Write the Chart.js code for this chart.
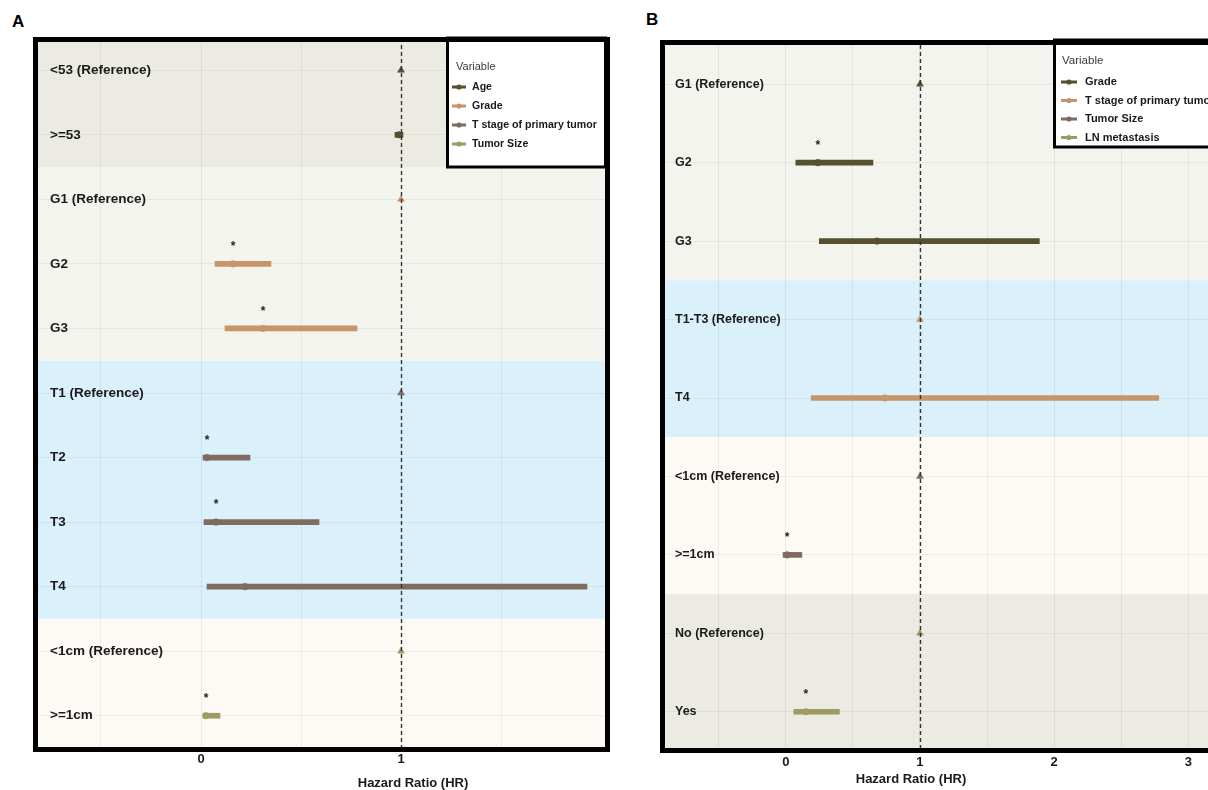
<!DOCTYPE html>
<html>
<head>
<meta charset="utf-8">
<script src="https://cdn.jsdelivr.net/npm/chart.js@4"></script>
<style>
html,body{margin:0;padding:0;background:#fff;overflow:hidden;width:1208px;height:790px;}
.panel{position:absolute;font:bold 17px 'Liberation Sans',Arial,sans-serif;color:#000;}
#cA{position:absolute;left:0;top:0;}
#cB{position:absolute;left:640px;top:0;}
</style>
</head>
<body>
<div class="panel" style="left:12px;top:12px">A</div>
<div class="panel" style="left:646px;top:10px">B</div>
<canvas id="cA" width="620" height="790"></canvas>
<canvas id="cB" width="620" height="790"></canvas>
<script>
// ---------- Panel A data ----------
const labelsA = ['<53 (Reference)', '>=53', 'G1 (Reference)', 'G2', 'G3', 'T1 (Reference)', 'T2', 'T3', 'T4', '<1cm (Reference)', '>=1cm'];
const variablesA = ['Age', 'Grade', 'T stage of primary tumor', 'Tumor Size'];
const groupA = [0, 0, 1, 1, 1, 2, 2, 2, 2, 3, 3];
const hrA   = [1, 0.99, 1, 0.16, 0.31, 1, 0.03, 0.075, 0.22, 1, 0.025];
const lowA  = [null, 0.97, null, 0.07, 0.12, null, 0.01, 0.015, 0.03, null, 0.01];
const highA = [null, 1.01, null, 0.35, 0.78, null, 0.245, 0.59, 1.93, null, 0.095];
const sigA  = [0, 0, 0, 1, 1, 0, 1, 1, 0, 0, 1];
const gridTicksA = [-0.5, 0, 0.5, 1, 1.5];
const tickLabelsA = [0, 1];

// ---------- Panel B data ----------
const labelsB = ['G1 (Reference)', 'G2', 'G3', 'T1-T3 (Reference)', 'T4', '<1cm (Reference)', '>=1cm', 'No (Reference)', 'Yes'];
const variablesB = ['Grade', 'T stage of primary tumor', 'Tumor Size', 'LN metastasis'];
const groupB = [0, 0, 0, 1, 1, 2, 2, 3, 3];
const hrB   = [1, 0.24, 0.68, 1, 0.74, 1, 0.01, 1, 0.15];
const lowB  = [null, 0.075, 0.25, null, 0.19, null, -0.02, null, 0.06];
const highB = [null, 0.65, 1.89, null, 2.78, null, 0.12, null, 0.40];
const sigB  = [0, 1, 0, 0, 0, 0, 1, 0, 1];
const gridTicksB = [-0.5, 0, 0.5, 1, 1.5, 2, 2.5, 3];
const tickLabelsB = [0, 1, 2, 3];

// ---------- styles ----------
const palette = ['#57502F', '#C8946A', '#7F6B60', '#9D9B62'];
const FONT = "'Liberation Sans', Arial, sans-serif";

function buildDatasets(labels, groups, hr, low, high, variables) {
  const ds = [];
  variables.forEach((v, g) => {
    ds.push({
      type: 'bar', label: v, indexAxis: 'y', grouped: false, barThickness: 5,
      backgroundColor: palette[g], borderWidth: 0, order: 2,
      data: labels.map((l, i) => (groups[i] === g && low[i] !== null) ? [low[i], high[i]] : null)
    });
  });
  variables.forEach((v, g) => {
    const idx = labels.map((l, i) => i).filter(i => groups[i] === g);
    ds.push({
      type: 'line', label: v + ' HR', indexAxis: 'y', showLine: false, order: 1,
      data: idx.map(i => ({ x: hr[i], y: labels[i] })),
      pointStyle: idx.map(i => low[i] === null ? 'triangle' : 'circle'),
      pointRadius: idx.map(i => low[i] === null ? 4 : 3.3),
      backgroundColor: palette[g], borderColor: palette[g], borderWidth: 0.5
    });
  });
  return ds;
}

function makeChart(id, cfg) {
  const decor = {
    id: 'decor',
    beforeDraw(chart) {
      const { ctx, chartArea: a, scales: { y } } = chart;
      const h = (a.bottom - a.top) / cfg.labels.length;
      ctx.save();
      cfg.variables.forEach((v, g) => {
        const idx = cfg.groups.map((gg, i) => gg === g ? i : -1).filter(i => i >= 0);
        const top = Math.max(a.top, y.getPixelForValue(idx[0]) - h / 2);
        const bot = Math.min(a.bottom, y.getPixelForValue(idx[idx.length - 1]) + h / 2);
        ctx.fillStyle = cfg.bands[g];
        ctx.fillRect(a.left, top, a.right - a.left, bot - top);
      });
      ctx.restore();
    },
    afterDatasetsDraw(chart) {
      const { ctx, chartArea: a, scales: { x, y } } = chart;
      ctx.save();
      const x1 = Math.round(x.getPixelForValue(1)) + 0.5;
      ctx.strokeStyle = '#333';
      ctx.lineWidth = 1.4;
      ctx.setLineDash([4, 3]);
      ctx.beginPath(); ctx.moveTo(x1, a.top); ctx.lineTo(x1, a.bottom); ctx.stroke();
      ctx.setLineDash([]);
      ctx.fillStyle = '#222';
      ctx.font = 'bold 12px ' + FONT;
      ctx.textAlign = 'center'; ctx.textBaseline = 'middle';
      cfg.sig.forEach((s, i) => {
        if (s) ctx.fillText('*', x.getPixelForValue(cfg.hr[i]), y.getPixelForValue(i) - 17);
      });
      ctx.restore();
    },
    afterDraw(chart) {
      const { ctx } = chart;
      const L = cfg.legend;
      ctx.save();
      ctx.fillStyle = '#fff';
      ctx.fillRect(L.box[0], L.box[1], L.box[2], L.box[3]);
      ctx.strokeStyle = '#000'; ctx.lineWidth = 3;
      ctx.strokeRect(L.box[0], L.box[1], L.box[2], L.box[3]);
      ctx.textBaseline = 'middle'; ctx.textAlign = 'left';
      ctx.fillStyle = '#3a3a3a';
      ctx.font = L.titleSize + 'px ' + FONT;
      ctx.fillText('Variable', L.titleX, L.titleY);
      cfg.variables.forEach((v, g) => {
        const yy = L.itemY0 + g * L.step;
        ctx.strokeStyle = palette[g]; ctx.lineWidth = 3;
        ctx.beginPath(); ctx.moveTo(L.keyX, yy); ctx.lineTo(L.keyX + L.keyW, yy); ctx.stroke();
        ctx.fillStyle = palette[g];
        ctx.beginPath(); ctx.arc(L.keyX + L.keyW / 2, yy, 2.6, 0, Math.PI * 2); ctx.fill();
        ctx.fillStyle = '#1a1a1a';
        ctx.font = 'bold ' + L.itemSize + 'px ' + FONT;
        ctx.fillText(v, L.textX, yy);
      });
      // frame
      ctx.strokeStyle = '#000'; ctx.lineWidth = 5;
      ctx.strokeRect(cfg.frame[0], cfg.frame[1], cfg.frame[2], cfg.frame[3]);
      // axis title
      ctx.fillStyle = '#1a1a1a';
      ctx.font = 'bold 13px ' + FONT;
      ctx.textAlign = 'center';
      ctx.fillText('Hazard Ratio (HR)', cfg.title[0], cfg.title[1]);
      ctx.restore();
    }
  };

  return new Chart(document.getElementById(id), {
    type: 'bar',
    data: {
      labels: cfg.labels,
      datasets: buildDatasets(cfg.labels, cfg.groups, cfg.hr, cfg.low, cfg.high, cfg.variables)
    },
    options: {
      responsive: false,
      animation: false,
      indexAxis: 'y',
      layout: { padding: cfg.padding },
      plugins: { legend: { display: false }, tooltip: { enabled: false } },
      scales: {
        x: {
          type: 'linear', min: cfg.xmin, max: cfg.xmax,
          afterFit: s => { s.height = 28; },
          afterBuildTicks: s => { s.ticks = cfg.gridTicks.map(v => ({ value: v })); },
          border: { display: false },
          grid: { color: 'rgba(0,0,0,0.06)', drawTicks: false, lineWidth: 1 },
          ticks: {
            autoSkip: false, maxRotation: 0, padding: 4, color: '#1a1a1a',
            font: { family: FONT, size: 13, weight: 'bold' },
            callback: v => cfg.tickLabels.includes(v) ? String(v) : ''
          }
        },
        y: {
          type: 'category', offset: true,
          afterFit: s => { s.width = 0; },
          border: { display: false },
          grid: { offset: false, color: 'rgba(0,0,0,0.05)', drawTicks: false },
          ticks: {
            mirror: true, padding: cfg.labelPad, color: '#1a1a1a', autoSkip: false,
            font: { family: FONT, size: cfg.labelSize, weight: 'bold' }
          }
        }
      }
    },
    plugins: [decor]
  });
}

makeChart('cA', {
  labels: labelsA, variables: variablesA, groups: groupA, hr: hrA, low: lowA, high: highA, sig: sigA,
  gridTicks: gridTicksA, tickLabels: tickLabelsA,
  xmin: -0.815, xmax: 2.02,
  padding: { left: 38, right: 15, top: 38, bottom: 14 },
  labelPad: 12, labelSize: 13.5,
  bands: ['#ECEBE3', '#F4F4EF', '#DAF0FB', '#FDF9F4'],
  frame: [35.5, 39.5, 572, 710],
  legend: { box: [447.5, 38, 158, 129], titleX: 456, titleY: 67, itemY0: 87, step: 19,
            keyX: 452, keyW: 14, textX: 472, titleSize: 11, itemSize: 10.6 },
  title: [413, 783]
});

makeChart('cB', {
  labels: labelsB, variables: variablesB, groups: groupB, hr: hrB, low: lowB, high: highB, sig: sigB,
  gridTicks: gridTicksB, tickLabels: tickLabelsB,
  xmin: -0.90, xmax: 3.46,
  padding: { left: 25, right: 10, top: 45, bottom: 11 },
  labelPad: 10, labelSize: 12.5,
  bands: ['#F4F4EF', '#DAF0FB', '#FDF9F4', '#ECEBE3'],
  frame: [22.5, 42.5, 640, 708],
  legend: { box: [414.5, 40, 230, 107], titleX: 422, titleY: 61, itemY0: 82, step: 18.5,
            keyX: 421, keyW: 16, textX: 445, titleSize: 11.5, itemSize: 11 },
  title: [271, 779]
});
</script>
</body>
</html>
